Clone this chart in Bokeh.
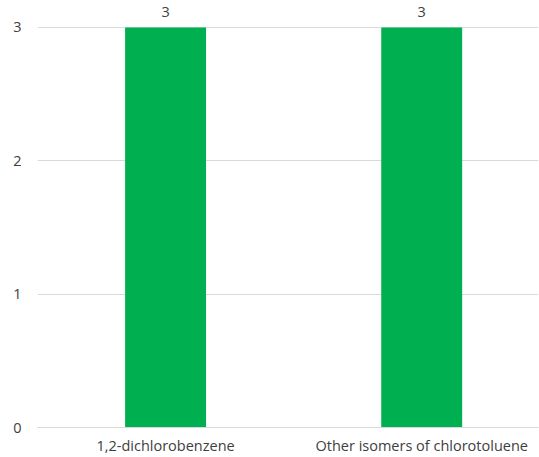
from bokeh.plotting import figure
from bokeh.models import ColumnDataSource, FixedTicker, Range1d
from bokeh.core.properties import value
from bokeh.embed import file_html
from bokeh.resources import INLINE

categories = ["1,2-dichlorobenzene", "Other isomers of chlorotoluene"]
values = [3, 3]
y_ticks = [0, 1, 2, 3]

xs = list(range(len(categories)))
src = ColumnDataSource(dict(x=xs, top=values, label=[str(v) for v in values]))

FONT = "Open Sans"
TXT = "#404040"
FS = "14.5px"

p = figure(width=539, height=457, output_backend="svg", toolbar_location=None,
           x_range=Range1d(-0.5, 1.456), y_range=Range1d(0, 3.2015),
           min_border_left=37, min_border_right=1, min_border_top=0, min_border_bottom=28)
p.outline_line_color = None
p.background_fill_color = "white"

p.vbar(x="x", top="top", width=0.316, source=src, color="#00B050", line_color=None)
p.text(x="x", y="top", text="label", source=src, text_align="center",
       text_baseline="alphabetic", y_offset=-15, text_font=value(FONT),
       text_font_size=FS, text_color=TXT)

p.xaxis.ticker = FixedTicker(ticks=xs)
p.xaxis.major_label_overrides = {i: c for i, c in enumerate(categories)}
p.yaxis.ticker = FixedTicker(ticks=y_ticks)
for ax in (p.xaxis[0], p.yaxis[0]):
    ax.major_tick_line_color = None
    ax.minor_tick_line_color = None
    ax.major_label_text_font = FONT
    ax.major_label_text_font_size = FS
    ax.major_label_text_color = TXT
p.xaxis.axis_line_color = "#d9d9d9"
p.yaxis.axis_line_color = None
p.xaxis.major_label_standoff = 2
p.yaxis.major_label_standoff = 10
p.xgrid.grid_line_color = None
p.ygrid.grid_line_color = "#d9d9d9"
p.ygrid.ticker = FixedTicker(ticks=y_ticks)

open("out.html", "w").write(file_html(p, INLINE))
